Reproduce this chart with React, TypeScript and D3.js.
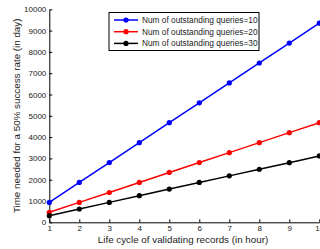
import * as d3 from "d3";
import { useEffect, useRef } from "react";

const lifeCycles = [1, 2, 3, 4, 5, 6, 7, 8, 9, 10];
const queries10 = [935, 1870, 2805, 3740, 4675, 5610, 6545, 7480, 8415, 9350];
const queries20 = [470, 935, 1400, 1870, 2340, 2805, 3270, 3740, 4210, 4675];
const queries30 = [310, 625, 935, 1250, 1560, 1870, 2180, 2490, 2800, 3115];
const yTicks = [0, 1000, 2000, 3000, 4000, 5000, 6000, 7000, 8000, 9000, 10000];

const seriesList = [
  { name: "Num of outstanding queries=10", values: queries10, color: "#0000ff" },
  { name: "Num of outstanding queries=20", values: queries20, color: "#ff0000" },
  { name: "Num of outstanding queries=30", values: queries30, color: "#000000" },
];

export default function App() {
  const svgRef = useRef<SVGSVGElement | null>(null);

  useEffect(() => {
    const width = 320;
    const height = 249;
    const font = "'Liberation Sans', Arial, Helvetica, sans-serif";

    const x = d3.scaleLinear().domain([1, 10]).range([49.3, 319.3]);
    const y = d3.scaleLinear().domain([0, 10000]).range([222.3, 9.3]);

    const svg = d3.select(svgRef.current);
    svg.selectAll("*").remove();
    svg.attr("width", width).attr("height", height);

    svg.append("rect").attr("width", width).attr("height", height).attr("fill", "#fff");

    // axes (matlab style, ticks inward)
    const xAxis = svg
      .append("g")
      .attr("transform", `translate(0,${y(0)})`)
      .call(d3.axisBottom(x).tickValues(lifeCycles).tickFormat(d3.format("d")).tickSizeInner(-3).tickSizeOuter(0).tickPadding(3));
    const yAxis = svg
      .append("g")
      .attr("transform", `translate(${x(1)},0)`)
      .call(d3.axisLeft(y).tickValues(yTicks).tickFormat(d3.format("d")).tickSizeInner(-3).tickSizeOuter(0).tickPadding(3));

    [xAxis, yAxis].forEach((g) => {
      g.selectAll("path").attr("stroke", "#000").attr("stroke-width", 1);
      g.selectAll("line").attr("stroke", "#000");
      g.selectAll("text").attr("fill", "#222").style("font-family", font).style("font-size", "8px");
    });

    const line = d3
      .line<number>()
      .x((_, i) => x(lifeCycles[i]))
      .y((d) => y(d));

    seriesList.forEach((s) => {
      svg
        .append("path")
        .datum(s.values)
        .attr("fill", "none")
        .attr("stroke", s.color)
        .attr("stroke-width", 1.5)
        .attr("d", line);
      svg
        .append("g")
        .selectAll("circle")
        .data(s.values)
        .join("circle")
        .attr("cx", (_, i) => x(lifeCycles[i]))
        .attr("cy", (d) => y(d))
        .attr("r", 2.6)
        .attr("fill", s.color);
    });

    // legend
    const legend = svg.append("g");
    legend
      .append("rect")
      .attr("x", 109)
      .attr("y", 12.5)
      .attr("width", 150)
      .attr("height", 38)
      .attr("fill", "#fff")
      .attr("stroke", "#000")
      .attr("stroke-width", 1);
    seriesList.forEach((s, i) => {
      const ly = 20 + i * 11.7;
      legend
        .append("line")
        .attr("x1", 114)
        .attr("x2", 138)
        .attr("y1", ly)
        .attr("y2", ly)
        .attr("stroke", s.color)
        .attr("stroke-width", 1.5);
      legend.append("circle").attr("cx", 126).attr("cy", ly).attr("r", 2.6).attr("fill", s.color);
      legend
        .append("text")
        .attr("x", 142)
        .attr("y", ly + 3)
        .attr("fill", "#222")
        .style("font-family", font)
        .style("font-size", "8.3px")
        .text(s.name);
    });

    // axis labels
    svg
      .append("text")
      .attr("x", 183)
      .attr("y", 242.5)
      .attr("text-anchor", "middle")
      .attr("fill", "#222")
      .style("font-family", font)
      .style("font-size", "9.8px")
      .text("Life cycle of validating records (in hour)");
    svg
      .append("text")
      .attr("transform", `translate(19.5,${y(5000)}) rotate(-90)`)
      .attr("text-anchor", "middle")
      .attr("fill", "#222")
      .style("font-family", font)
      .style("font-size", "9.8px")
      .text("Time needed for a 50% success rate (in day)");
  }, []);

  return (
    <div style={{ position: "absolute", left: 0, top: 0, width: 320, height: 249, overflow: "hidden" }}>
      <svg ref={svgRef} style={{ display: "block" }} />
    </div>
  );
}
